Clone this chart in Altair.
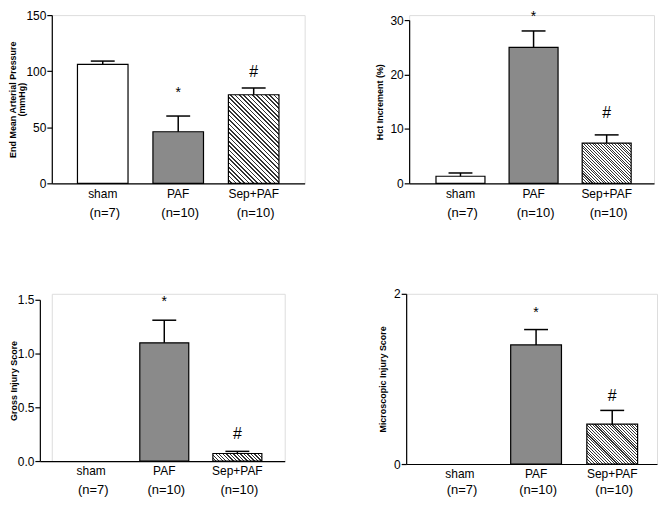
import altair as alt
import pandas as pd

groups = ["sham", "PAF", "Sep+PAF"]
n_labels = ["(n=7)", "(n=10)", "(n=10)"]
sig_marks = ["", "*", "#"]

map_mean = [106, 46, 79]
map_sem = [3, 14, 6]
hct_mean = [1.3, 25.0, 7.4]
hct_sem = [0.6, 3.0, 1.5]
gross_mean = [0.0, 1.1, 0.07]
gross_sem = [0.0, 0.21, 0.02]
micro_mean = [0.0, 1.4, 0.47]
micro_sem = [0.0, 0.18, 0.16]

FONT = "Liberation Sans"


def hatch(w, h, n=32, dark="#333333", light="#ffffff", frac=0.375):
    s = (w + h) / (w * w + h * h)
    stops = []
    for i in range(n):
        a = i / n
        b = (i + frac) / n
        c = (i + 1) / n
        stops += [{"offset": a, "color": dark}, {"offset": b, "color": dark},
                  {"offset": b, "color": light}, {"offset": c, "color": light}]
    return {"gradient": "linear", "stops": stops,
            "x1": 1, "y1": 0, "x2": 1 - s * w, "y2": s * h}


def panel(means, sems, title, ymax, ticks, fmt, width, height,
          star_dy, hash_dy, title_pad, n_off=30, pin=0.33, pout=0.34,
          align=0.5, stripes=32, xshift=0, ytop=0):
    df = pd.DataFrame({
        "group": groups, "mean": means, "sem": sems,
        "top": [m + s for m, s in zip(means, sems)],
        "n": n_labels, "sig": sig_marks,
    })
    xspan = width + xshift
    yspan = height - ytop
    xs = alt.Scale(domain=groups, paddingInner=pin, paddingOuter=pout,
                   align=align, range=[-xshift, width])
    xaxis = alt.Axis(title=None, labelAngle=0, ticks=False, tickSize=0,
                     labelPadding=5, labelFontSize=12, labelFont=FONT,
                     labelColor="black", domainColor="black", domainWidth=1.2,
                     grid=False)
    ys = alt.Scale(domain=[0, ymax], nice=False, zero=True,
                   range=[height, ytop])
    yaxis = alt.Axis(title=title, values=ticks, format=fmt, grid=False,
                     offset=xshift,
                     tickSize=5, tickColor="black", tickWidth=1.2,
                     domainColor="black", domainWidth=1.2,
                     labelFontSize=12, labelFont=FONT, labelColor="black",
                     labelPadding=1, titleFontSize=9, titleFont=FONT,
                     titleFontWeight="bold", titleColor="black",
                     titlePadding=title_pad, titleLineHeight=9)
    X = alt.X("group:N", sort=groups, scale=xs, axis=xaxis)

    def Y(f):
        return alt.Y(f, scale=ys, axis=yaxis)

    step = xspan / (3 - pin + 2 * pout)
    bw = step * (1 - pin)
    hsep = means[2] / ymax * yspan

    base = alt.Chart(df)
    plain = base.transform_filter(
        (alt.datum.group != "Sep+PAF") & (alt.datum.mean > 0)
    ).mark_bar(stroke="black", strokeWidth=1.2).encode(
        x=X, y=Y("mean:Q"),
        fill=alt.Fill("group:N", scale=alt.Scale(domain=["sham", "PAF"],
                      range=["#ffffff", "#8a8a8a"]), legend=None),
    )
    sep = base.transform_filter(alt.datum.group == "Sep+PAF").mark_bar(
        stroke="black", strokeWidth=1.2, fill=hatch(bw, hsep, n=stripes)
    ).encode(x=X, y=Y("mean:Q"))
    rule = base.transform_filter(alt.datum.sem > 0).mark_rule(
        color="black", strokeWidth=1.5
    ).encode(x=X, y=Y("mean:Q"), y2="top:Q")
    cap = base.transform_filter(alt.datum.sem > 0).mark_tick(
        color="black", size=24, thickness=1.5, opacity=1
    ).encode(x=X, y=Y("top:Q"))
    star = base.transform_filter(alt.datum.sig == "*").mark_text(
        fontSize=14, font=FONT, color="black", baseline="middle", dy=star_dy
    ).encode(x=X, y=Y("top:Q"), text="sig:N")
    hsh = base.transform_filter(alt.datum.sig == "#").mark_text(
        fontSize=16, font=FONT, color="black", baseline="middle", dy=hash_dy
    ).encode(x=X, y=Y("top:Q"), text="sig:N")
    nlab = base.mark_text(fontSize=13, font=FONT, color="black",
                          baseline="middle", dx=2).encode(
        x=X, y=alt.value(height + n_off), text="n:N")
    return alt.layer(plain, sep, rule, cap, star, hsh, nlab).properties(
        width=width, height=height)


p1 = panel(map_mean, map_sem, ["End Mean Arterial Pressure", "(mmHg)"], 150,
           [0, 50, 100, 150], "d", 254, 169, -23, -16, -1)
p2 = panel(hct_mean, hct_sem, "Hct Increment (%)", 30, [0, 10, 20, 30], "d",
           246, 169, -14, -22, 5, ytop=5, align=0.54)
p3 = panel(gross_mean, gross_sem, "Gross Injury Score", 1.5,
           [0, 0.5, 1.0, 1.5], ".1f", 234, 168, -18.5, -17, -1, n_off=29,
           stripes=16, xshift=12, ytop=6, align=0.54)
p4 = panel(micro_mean, micro_sem, "Microscopic Injury Score", 2, [0, 1, 2],
           "d", 252, 171, -17, -14, 6, n_off=26, pin=0.333, pout=0.3137,
           align=0.594)

row1 = alt.hconcat(p1, p2, spacing=70)
row2 = alt.hconcat(p3, p4, spacing=80)
chart = alt.vconcat(row1, row2, spacing=66).properties(
    padding={"top": -1, "left": 0, "right": 0, "bottom": 0}
).configure_view(stroke=None).configure(background="white")

chart.save("out.html", embed_options={"renderer": "svg", "actions": False})
